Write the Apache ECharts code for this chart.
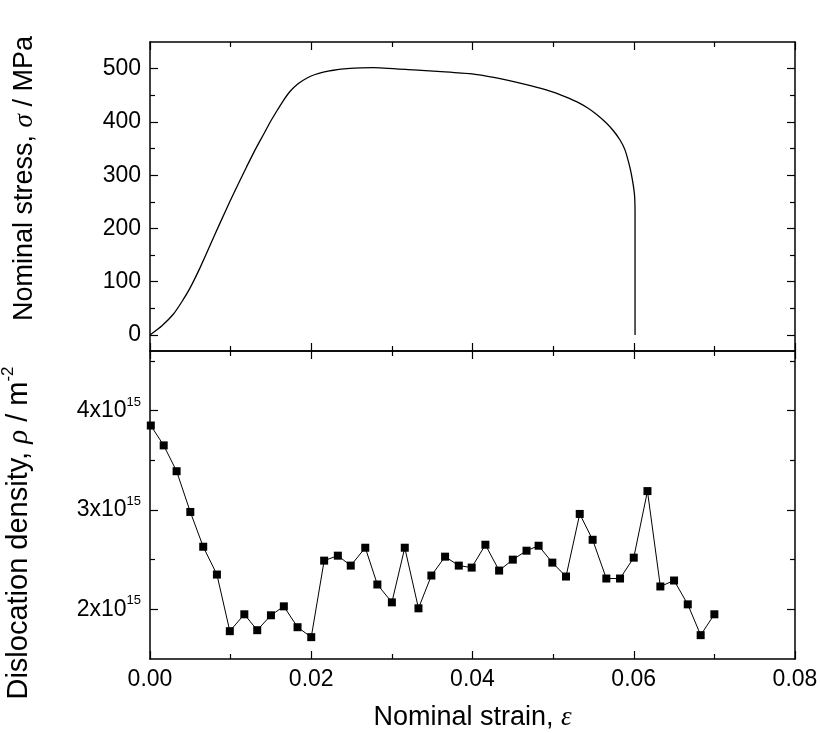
<!DOCTYPE html>
<html><head><meta charset="utf-8">
<script src="https://cdn.jsdelivr.net/npm/echarts@6/dist/echarts.min.js"></script>
<style>html,body{margin:0;padding:0;background:#fff}#c{width:820px;height:733px}</style>
</head><body><div id="c"></div>
<script>
// Stress–strain curve (top panel)
const stressStrain = [0, 0.00145, 0.00289, 0.00393, 0.00496, 0.0062, 0.00744, 0.00868, 0.00992, 0.01096, 0.01199, 0.01302, 0.01406, 0.01488, 0.01571, 0.01654, 0.01736, 0.0184, 0.01943, 0.02047, 0.0215, 0.02274, 0.0244, 0.0277, 0.0327, 0.0366, 0.0397, 0.0428, 0.0459, 0.0480, 0.0500, 0.0517, 0.0529, 0.0542, 0.0554, 0.0566, 0.0575, 0.0583, 0.0589, 0.0595, 0.05985, 0.0601, 0.06016, 0.06016];
const stressValues = [0, 17, 39, 62, 88, 126, 168, 210, 251, 284, 316, 347, 376, 399, 420, 440, 457, 472, 482, 489, 493.5, 497, 500, 502, 497.5, 494, 490.5, 483, 473, 465, 456, 446, 438, 427, 414, 398, 383, 366, 348, 316, 290, 262, 227, 0];
// Dislocation density (bottom panel)
const rhoStrain = [0.0001, 0.0017, 0.0033, 0.0050, 0.0066, 0.0083, 0.0099, 0.0117, 0.0133, 0.0150, 0.0166, 0.0183, 0.0200, 0.0216, 0.0233, 0.0249, 0.0267, 0.0282, 0.0300, 0.0316, 0.0333, 0.0349, 0.0366, 0.0383, 0.0399, 0.0416, 0.0433, 0.0450, 0.0467, 0.0482, 0.0499, 0.0516, 0.0533, 0.0549, 0.0566, 0.0583, 0.0600, 0.0617, 0.0633, 0.0650, 0.0667, 0.0683, 0.0700];
const rhoValues = [3.85e15, 3.65e15, 3.39e15, 2.98e15, 2.63e15, 2.35e15, 1.78e15, 1.95e15, 1.79e15, 1.94e15, 2.03e15, 1.82e15, 1.72e15, 2.49e15, 2.54e15, 2.44e15, 2.62e15, 2.25e15, 2.07e15, 2.62e15, 2.01e15, 2.34e15, 2.53e15, 2.44e15, 2.42e15, 2.65e15, 2.39e15, 2.50e15, 2.59e15, 2.64e15, 2.47e15, 2.33e15, 2.96e15, 2.70e15, 2.31e15, 2.31e15, 2.52e15, 3.19e15, 2.23e15, 2.29e15, 2.05e15, 1.74e15, 1.95e15];
// Tick values
const xTicks = [0, 0.02, 0.04, 0.06, 0.08];
const stressTicks = [0, 100, 200, 300, 400, 500];
const stressMinorTicks = [50, 150, 250, 350, 450];
const rhoTicks = [2e15, 3e15, 4e15];
const rhoMinorTicks = [2.5e15, 3.5e15, 4.5e15];

const FONT = '"Liberation Sans", Arial, sans-serif';
const SERIF = '"Liberation Serif", "Times New Roman", serif';
const BLK = '#000';
const TITLE = 27;
const TITLE2 = 29;
const TICKF = 23;

function xAx(gridIndex, position, showLabel, name) {
  return {
    type: 'value', gridIndex, position, min: xTicks[0], max: xTicks[xTicks.length - 1], interval: xTicks[1] - xTicks[0],
    axisLine: {show: true, onZero: false, lineStyle: {color: BLK, width: 1.5}},
    axisTick: {show: true, inside: true, length: 8, lineStyle: {color: BLK, width: 1.2}},
    minorTick: {show: true, splitNumber: 2, length: 5, lineStyle: {color: BLK, width: 1.2}},
    splitLine: {show: false}, minorSplitLine: {show: false},
    axisLabel: {show: showLabel, margin: 9, fontSize: TICKF, fontFamily: FONT, color: BLK,
      formatter: v => v.toFixed(2)},
    name: name || '', nameLocation: 'middle', nameGap: 45,
    nameTextStyle: {fontSize: TITLE, fontFamily: FONT, color: BLK,
      rich: {i: {fontSize: TITLE, fontFamily: SERIF, fontStyle: 'italic', color: BLK}}}
  };
}
function yAx(gridIndex, position, min, max, ticks, len, showLine, labelCfg, name, nameStyle) {
  return {
    type: 'value', gridIndex, position, min, max,
    axisLine: {show: showLine, onZero: false, lineStyle: {color: BLK, width: 1.5}},
    axisTick: {show: true, inside: true, length: len, customValues: ticks, lineStyle: {color: BLK, width: 1.2}},
    splitLine: {show: false},
    axisLabel: labelCfg ? Object.assign({show: true, customValues: ticks, margin: 9, fontSize: TICKF, fontFamily: FONT, color: BLK}, labelCfg) : {show: false},
    name: name || '', nameLocation: 'middle', nameGap: 112,
    nameTextStyle: nameStyle || {}
  };
}

const chart = echarts.init(document.getElementById('c'), null, {renderer: 'canvas'});
chart.setOption({
  animation: false,
  backgroundColor: '#fff',
  grid: [
    {left: 150, right: 25, top: 42, height: 309, containLabel: false, outerBoundsMode: 'none'},
    {left: 150, right: 25, top: 351, height: 308, containLabel: false, outerBoundsMode: 'none'}
  ],
  xAxis: [
    xAx(0, 'bottom', false),
    xAx(0, 'top', false),
    xAx(1, 'bottom', true, 'Nominal strain, {i|ε}'),
    xAx(1, 'top', false)
  ],
  yAxis: [
    yAx(0, 'left', -30, 550, stressTicks, 8, true, {formatter: v => String(v)},
      'Nominal stress, {i|σ} / MPa',
      {fontSize: TITLE, fontFamily: FONT, color: BLK, padding: [0, 0, 0, 36],
       rich: {i: {fontSize: TITLE, fontFamily: SERIF, fontStyle: 'italic', color: BLK}}}),
    yAx(0, 'left', -30, 550, stressMinorTicks, 5, false),
    yAx(0, 'right', -30, 550, stressTicks, 8, true),
    yAx(0, 'right', -30, 550, stressMinorTicks, 5, false),
    yAx(1, 'left', 1.5e15, 4.6e15, rhoTicks, 8, true,
      {formatter: v => '{a|' + Math.round(v / 1e15) + 'x10}{s|15}',
       rich: {a: {fontSize: TICKF, fontFamily: FONT, color: BLK, lineHeight: 30},
              s: {fontSize: 13, fontFamily: FONT, color: BLK, lineHeight: 30, verticalAlign: 'top'}}},
      'Dislocation density, {i|ρ} / m{s|-2}',
      {fontSize: TITLE2, fontFamily: FONT, color: BLK, padding: [0, 56, 0, 0],
       rich: {i: {fontSize: TITLE2, fontFamily: SERIF, fontStyle: 'italic', color: BLK, lineHeight: 38},
              s: {fontSize: 17, fontFamily: FONT, color: BLK, lineHeight: 38, verticalAlign: 'top'}}}),
    yAx(1, 'left', 1.5e15, 4.6e15, rhoMinorTicks, 5, false),
    yAx(1, 'right', 1.5e15, 4.6e15, rhoTicks, 8, true),
    yAx(1, 'right', 1.5e15, 4.6e15, rhoMinorTicks, 5, false)
  ],
  series: [
    {type: 'line', xAxisIndex: 0, yAxisIndex: 0, symbol: 'none', smooth: 0.15,
     data: stressStrain.map((x, i) => [x, stressValues[i]]),
     lineStyle: {color: BLK, width: 1.3}},
    {type: 'line', xAxisIndex: 2, yAxisIndex: 4, symbol: 'rect', symbolSize: 8,
     data: rhoStrain.map((x, i) => [x, rhoValues[i]]),
     itemStyle: {color: BLK}, lineStyle: {color: BLK, width: 1}}
  ]
});
</script></body></html>
